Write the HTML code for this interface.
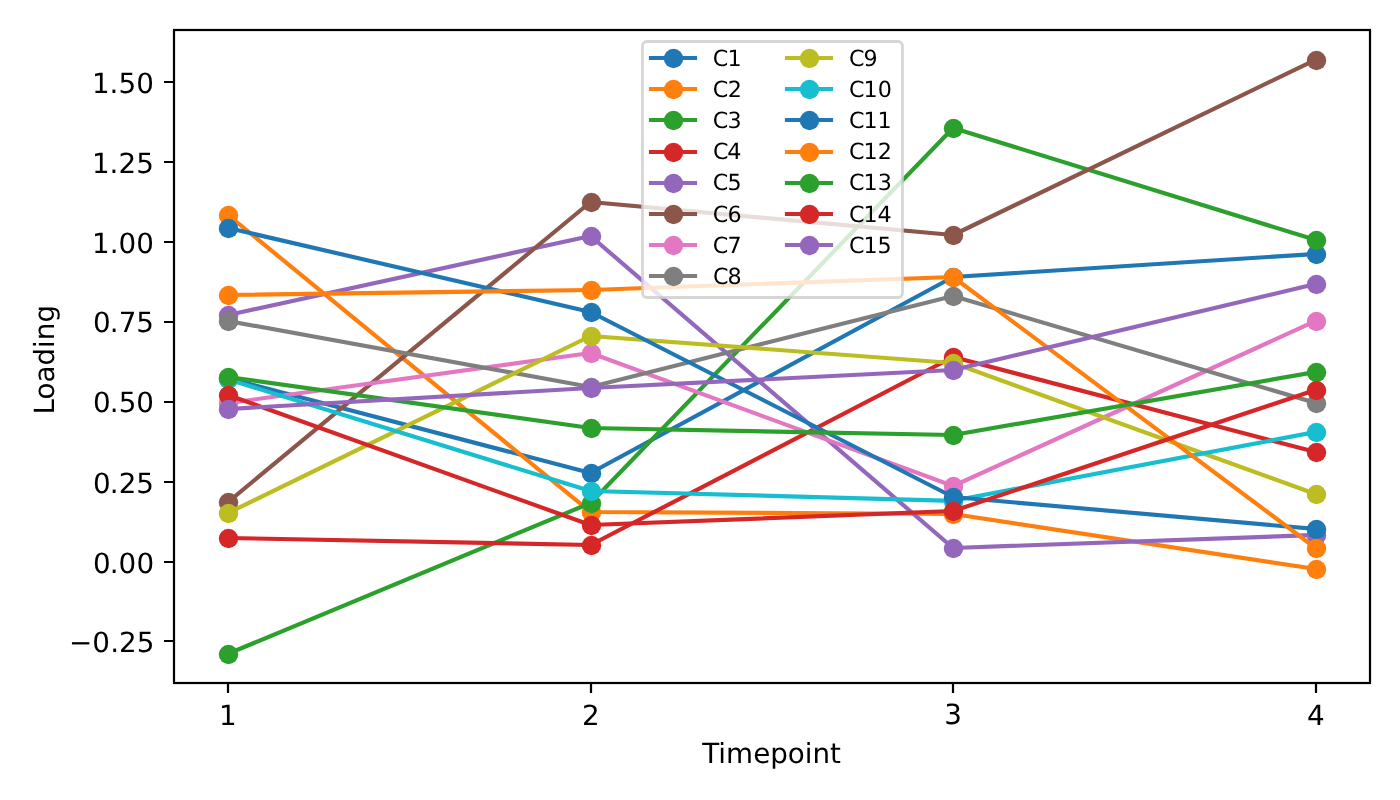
<!DOCTYPE html>
<html lang="en"><head><meta charset="utf-8"><title>Loading by timepoint</title>
<style>
html,body{margin:0;padding:0;background:#fff}
svg{display:block}
text{font-family:"DejaVu Sans","Liberation Sans",sans-serif;fill:#000;text-rendering:geometricPrecision}
.t10{font-size:27.78px}
.t8{font-size:22.22px}
.ln{fill:none;stroke-width:4.17;stroke-linejoin:round;stroke-linecap:square}
.tk{stroke:#000;stroke-width:2.22;fill:none}
</style></head><body>
<svg width="1400" height="800" viewBox="0 0 1400 800">
<rect width="1400" height="800" fill="#fff"/>
<g id="series">
<g fill="#1f77b4" stroke="none"><polyline class="ln" stroke="#1f77b4" points="228.06,378.45 590.58,473 953.1,277 1315.62,254"/>
<circle cx="228.5" cy="378.5" r="9.72"/><circle cx="591.5" cy="473.5" r="9.72"/><circle cx="953.5" cy="277.5" r="9.72"/><circle cx="1316.5" cy="254.5" r="9.72"/></g>
<g fill="#ff7f0e" stroke="none"><polyline class="ln" stroke="#ff7f0e" points="228.06,215 590.58,512 953.1,514 1315.62,569"/>
<circle cx="228.5" cy="215.5" r="9.72"/><circle cx="591.5" cy="512.5" r="9.72"/><circle cx="953.5" cy="514.5" r="9.72"/><circle cx="1316.5" cy="569.5" r="9.72"/></g>
<g fill="#2ca02c" stroke="none"><polyline class="ln" stroke="#2ca02c" points="228.06,653.74 590.58,503 953.1,128 1315.62,240"/>
<circle cx="228.5" cy="654.5" r="9.72"/><circle cx="591.5" cy="503.5" r="9.72"/><circle cx="953.5" cy="128.5" r="9.72"/><circle cx="1316.5" cy="240.5" r="9.72"/></g>
<g fill="#d62728" stroke="none"><polyline class="ln" stroke="#d62728" points="228.06,538 590.58,545 953.1,357 1315.62,452"/>
<circle cx="228.5" cy="538.5" r="9.72"/><circle cx="591.5" cy="545.5" r="9.72"/><circle cx="953.5" cy="357.5" r="9.72"/><circle cx="1316.5" cy="452.5" r="9.72"/></g>
<g fill="#9467bd" stroke="none"><polyline class="ln" stroke="#9467bd" points="228.06,315 590.58,236 953.1,548 1315.62,535"/>
<circle cx="228.5" cy="315.5" r="9.72"/><circle cx="591.5" cy="236.5" r="9.72"/><circle cx="953.5" cy="548.5" r="9.72"/><circle cx="1316.5" cy="535.5" r="9.72"/></g>
<g fill="#8c564b" stroke="none"><polyline class="ln" stroke="#8c564b" points="228.06,502 590.58,202 953.1,235 1315.62,59.7"/>
<circle cx="228.5" cy="502.5" r="9.72"/><circle cx="591.5" cy="202.5" r="9.72"/><circle cx="953.5" cy="235.5" r="9.72"/><circle cx="1316.5" cy="60.5" r="9.72"/></g>
<g fill="#e377c2" stroke="none"><polyline class="ln" stroke="#e377c2" points="228.06,403.1 590.58,353 953.1,486 1315.62,321"/>
<circle cx="228.5" cy="403.5" r="9.72"/><circle cx="591.5" cy="353.5" r="9.72"/><circle cx="953.5" cy="486.5" r="9.72"/><circle cx="1316.5" cy="321.5" r="9.72"/></g>
<g fill="#7f7f7f" stroke="none"><polyline class="ln" stroke="#7f7f7f" points="228.06,321 590.58,387 953.1,296 1315.62,403"/>
<circle cx="228.5" cy="321.5" r="9.72"/><circle cx="591.5" cy="387.5" r="9.72"/><circle cx="953.5" cy="296.5" r="9.72"/><circle cx="1316.5" cy="403.5" r="9.72"/></g>
<g fill="#bcbd22" stroke="none"><polyline class="ln" stroke="#bcbd22" points="228.06,513 590.58,336 953.1,363 1315.62,494"/>
<circle cx="228.5" cy="513.5" r="9.72"/><circle cx="591.5" cy="336.5" r="9.72"/><circle cx="953.5" cy="363.5" r="9.72"/><circle cx="1316.5" cy="494.5" r="9.72"/></g>
<g fill="#17becf" stroke="none"><polyline class="ln" stroke="#17becf" points="228.06,379.4 590.58,491 953.1,500.8 1315.62,432"/>
<circle cx="228.5" cy="379.5" r="9.72"/><circle cx="591.5" cy="491.5" r="9.72"/><circle cx="953.5" cy="501.5" r="9.72"/><circle cx="1316.5" cy="432.5" r="9.72"/></g>
<g fill="#1f77b4" stroke="none"><polyline class="ln" stroke="#1f77b4" points="228.06,228 590.58,312 953.1,497 1315.62,529"/>
<circle cx="228.5" cy="228.5" r="9.72"/><circle cx="591.5" cy="312.5" r="9.72"/><circle cx="953.5" cy="497.5" r="9.72"/><circle cx="1316.5" cy="529.5" r="9.72"/></g>
<g fill="#ff7f0e" stroke="none"><polyline class="ln" stroke="#ff7f0e" points="228.06,295 590.58,290 953.1,277 1315.62,548"/>
<circle cx="228.5" cy="295.5" r="9.72"/><circle cx="591.5" cy="290.5" r="9.72"/><circle cx="953.5" cy="277.5" r="9.72"/><circle cx="1316.5" cy="548.5" r="9.72"/></g>
<g fill="#2ca02c" stroke="none"><polyline class="ln" stroke="#2ca02c" points="228.06,377 590.58,428 953.1,435 1315.62,372"/>
<circle cx="228.5" cy="377.5" r="9.72"/><circle cx="591.5" cy="428.5" r="9.72"/><circle cx="953.5" cy="435.5" r="9.72"/><circle cx="1316.5" cy="372.5" r="9.72"/></g>
<g fill="#d62728" stroke="none"><polyline class="ln" stroke="#d62728" points="228.06,395 590.58,525 953.1,511 1315.62,390"/>
<circle cx="228.5" cy="395.5" r="9.72"/><circle cx="591.5" cy="525.5" r="9.72"/><circle cx="953.5" cy="511.5" r="9.72"/><circle cx="1316.5" cy="390.5" r="9.72"/></g>
<g fill="#9467bd" stroke="none"><polyline class="ln" stroke="#9467bd" points="228.06,409 590.58,388 953.1,370 1315.62,284"/>
<circle cx="228.5" cy="409.5" r="9.72"/><circle cx="591.5" cy="388.5" r="9.72"/><circle cx="953.5" cy="370.5" r="9.72"/><circle cx="1316.5" cy="284.5" r="9.72"/></g>
</g>
<rect class="tk" x="174" y="30" width="1196" height="653"/>
<path class="tk" d="M228 683v10M591 683v10M953 683v10M1316 683v10M174 641h-10M174 562h-10M174 482h-10M174 402h-10M174 322h-10M174 242h-10M174 162h-10M174 82h-10"/>
<g id="xticklabels">
<text class="t10" x="219.04" y="725">1</text>
<text class="t10" x="582.12" y="725">2</text>
<text class="t10" x="944.19" y="724">3</text>
<text class="t10" x="1306.96" y="725">4</text>
</g><g id="yticklabels">
<text class="t10" x="68.94 92.29 110.14 118.93 136.75" y="652">−0.25</text>
<text class="t10" x="93.12 109.74 118.57 136.47" y="573">0.00</text>
<text class="t10" x="93.11 109.73 118.71 136.26" y="493">0.25</text>
<text class="t10" x="92.99 109.87 118.77 136.32" y="412">0.50</text>
<text class="t10" x="93.11 109.73 118.77 136.26" y="332">0.75</text>
<text class="t10" x="92.03 109.76 118.43 136.32" y="253">1.00</text>
<text class="t10" x="92.09 109.56 118.42 136.24" y="173">1.25</text>
<text class="t10" x="91.89 109.58 118.53 136.23" y="93">1.50</text>
</g>
<text class="t10" x="702.32 718.32 726.07 753.19 770.19 787.82 804.69 812.44 830.07" y="763">Timepoint</text>
<text class="t10" transform="translate(54 414.49) rotate(-90)" x="0 15 31.88 48.88 66.5 74.25 91.88" y="0">Loading</text>
<g id="legend">
<rect x="642.5" y="41.5" width="260" height="256" rx="4.44" fill="#fff" fill-opacity="0.8" stroke="#ccc" stroke-opacity="0.8" stroke-width="2.78"/>
<g fill="#1f77b4"><path class="ln" stroke="#1f77b4" d="M651 58H695"/><circle cx="673.5" cy="58.5" r="9.72"/></g>
<text class="t8" x="712.79 727.58" y="66">C1</text>
<g fill="#ff7f0e"><path class="ln" stroke="#ff7f0e" d="M651 89H695"/><circle cx="673.5" cy="89.5" r="9.72"/></g>
<text class="t8" x="712.79 727.69" y="97">C2</text>
<g fill="#2ca02c"><path class="ln" stroke="#2ca02c" d="M651 120H695"/><circle cx="673.5" cy="120.5" r="9.72"/></g>
<text class="t8" x="712.79 727.49" y="128">C3</text>
<g fill="#d62728"><path class="ln" stroke="#d62728" d="M651 152H695"/><circle cx="673.5" cy="152.5" r="9.72"/></g>
<text class="t8" x="712.88 727.34" y="159">C4</text>
<g fill="#9467bd"><path class="ln" stroke="#9467bd" d="M651 183H695"/><circle cx="673.5" cy="183.5" r="9.72"/></g>
<text class="t8" x="712.79 727.59" y="190">C5</text>
<g fill="#8c564b"><path class="ln" stroke="#8c564b" d="M651 214H695"/><circle cx="673.5" cy="214.5" r="9.72"/></g>
<text class="t8" x="712.8 727.43" y="222">C6</text>
<g fill="#e377c2"><path class="ln" stroke="#e377c2" d="M651 245H695"/><circle cx="673.5" cy="245.5" r="9.72"/></g>
<text class="t8" x="712.79 727.55" y="253">C7</text>
<g fill="#7f7f7f"><path class="ln" stroke="#7f7f7f" d="M651 276H695"/><circle cx="673.5" cy="276.5" r="9.72"/></g>
<text class="t8" x="712.91 727.49" y="284">C8</text>
<g fill="#bcbd22"><path class="ln" stroke="#bcbd22" d="M787 58H831"/><circle cx="809.5" cy="58.5" r="9.72"/></g>
<text class="t8" x="848.97 863.59" y="66">C9</text>
<g fill="#17becf"><path class="ln" stroke="#17becf" d="M787 89H831"/><circle cx="809.5" cy="89.5" r="9.72"/></g>
<text class="t8" x="848.97 863.5 877.66" y="97">C10</text>
<g fill="#1f77b4"><path class="ln" stroke="#1f77b4" d="M787 120H831"/><circle cx="809.5" cy="120.5" r="9.72"/></g>
<text class="t8" x="848.97 863.5 877.49" y="128">C11</text>
<g fill="#ff7f0e"><path class="ln" stroke="#ff7f0e" d="M787 152H831"/><circle cx="809.5" cy="152.5" r="9.72"/></g>
<text class="t8" x="848.97 863.5 877.63" y="159">C12</text>
<g fill="#2ca02c"><path class="ln" stroke="#2ca02c" d="M787 183H831"/><circle cx="809.5" cy="183.5" r="9.72"/></g>
<text class="t8" x="848.97 863.5 877.65" y="190">C13</text>
<g fill="#d62728"><path class="ln" stroke="#d62728" d="M787 214H831"/><circle cx="809.5" cy="214.5" r="9.72"/></g>
<text class="t8" x="848.91 863.62 877.4" y="222">C14</text>
<g fill="#9467bd"><path class="ln" stroke="#9467bd" d="M787 245H831"/><circle cx="809.5" cy="245.5" r="9.72"/></g>
<text class="t8" x="848.97 863.5 877.57" y="253">C15</text>
</g>
</svg></body></html>
